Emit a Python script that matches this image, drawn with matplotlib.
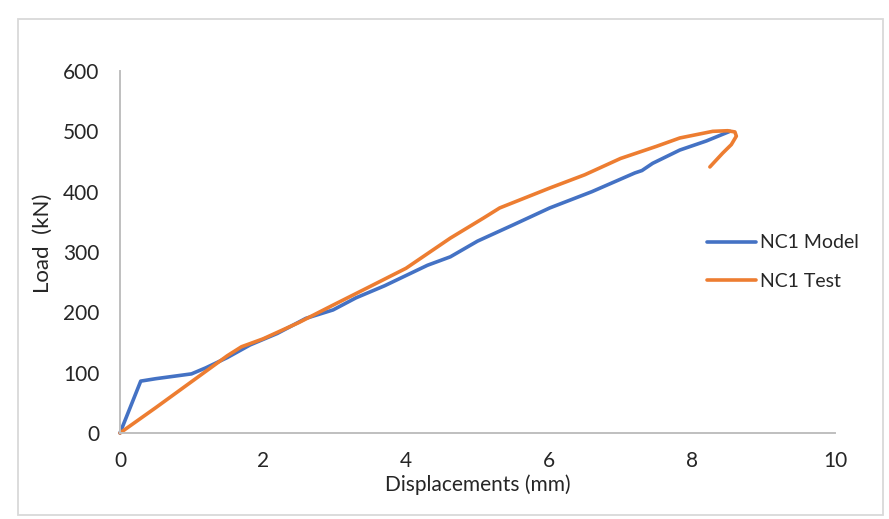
import numpy as np
import matplotlib
matplotlib.use("Agg")
import matplotlib.pyplot as plt
from matplotlib.patches import Rectangle

plt.rcParams['font.family'] = ['Lato', 'DejaVu Sans']

# NC1 Model (blue)
model_x = [0, 0.29, 0.5, 1.0, 1.2, 1.5, 1.82, 2.2, 2.6, 2.98, 3.3, 3.7,
           4.3, 4.62, 5.0, 5.5, 6.01, 6.6, 7.2, 7.3, 7.45, 7.83, 8.2, 8.53]
model_y = [0, 86, 90, 98, 108, 125, 146, 165, 190, 204, 224, 244,
           278, 292, 318, 345, 373, 400, 431, 435, 447, 469, 484, 500]

# NC1 Test (orange)
test_x = [0, 0.5, 1.0, 1.5, 1.7, 2.0, 2.5, 2.98, 3.5, 4.0, 4.62, 5.08,
          5.31, 6.01, 6.5, 7.0, 7.5, 7.83, 8.29, 8.5, 8.6, 8.62, 8.55, 8.43, 8.25]
test_y = [0, 42, 85, 128, 143, 156, 183, 212, 243, 273, 323, 356,
          373, 406, 428, 455, 475, 489, 500, 501, 499, 492, 478, 464, 441]

x_ticks = [0, 2, 4, 6, 8, 10]
y_ticks = [0, 100, 200, 300, 400, 500, 600]

fig = plt.figure(figsize=(8.89, 5.19), dpi=100)
ax = fig.add_axes([120/889, 86/519, 715/889, 362/519])

ax.plot(model_x, model_y, color='#4472C4', lw=2.6, label='NC1 Model',
        solid_capstyle='round', solid_joinstyle='round', clip_on=False)
ax.plot(test_x, test_y, color='#ED7D31', lw=2.6, label='NC1 Test',
        solid_capstyle='round', solid_joinstyle='round', clip_on=False)

ax.set_xlim(0, 10)
ax.set_ylim(0, 600)
ax.set_xticks(x_ticks)
ax.set_yticks(y_ticks)
ax.tick_params(length=0, labelsize=15, colors='#262626')
ax.tick_params(axis='y', pad=15)
ax.tick_params(axis='x', pad=13)
for s in ['top', 'right']:
    ax.spines[s].set_visible(False)
for s in ['left', 'bottom']:
    ax.spines[s].set_color('#BFBFBF')
    ax.spines[s].set_linewidth(1.4)
ax.set_zorder(1)

fig.text(385/889, 1 - 491/519, 'Displacements (mm)', ha='left', va='baseline',
         fontsize=15, color='#262626')
fig.text(43/889, 1 - 243/519, 'Load  (kN)', rotation=90, ha='center',
         va='center', fontsize=16, color='#262626')

leg = fig.legend(loc='center left', bbox_to_anchor=(707/889, 1 - 262/519),
                 frameon=False, fontsize=14, handlelength=2.5,
                 labelspacing=1.1, handletextpad=0.25, borderpad=0,
                 borderaxespad=0)
for t in leg.get_texts():
    t.set_color('#262626')

fig.patches.append(Rectangle((18/889, 1 - 515/519), 865/889, 496/519,
                             transform=fig.transFigure, fill=False,
                             edgecolor='#D9D9D9', lw=1.3))

fig.savefig('out.png', dpi=100)
